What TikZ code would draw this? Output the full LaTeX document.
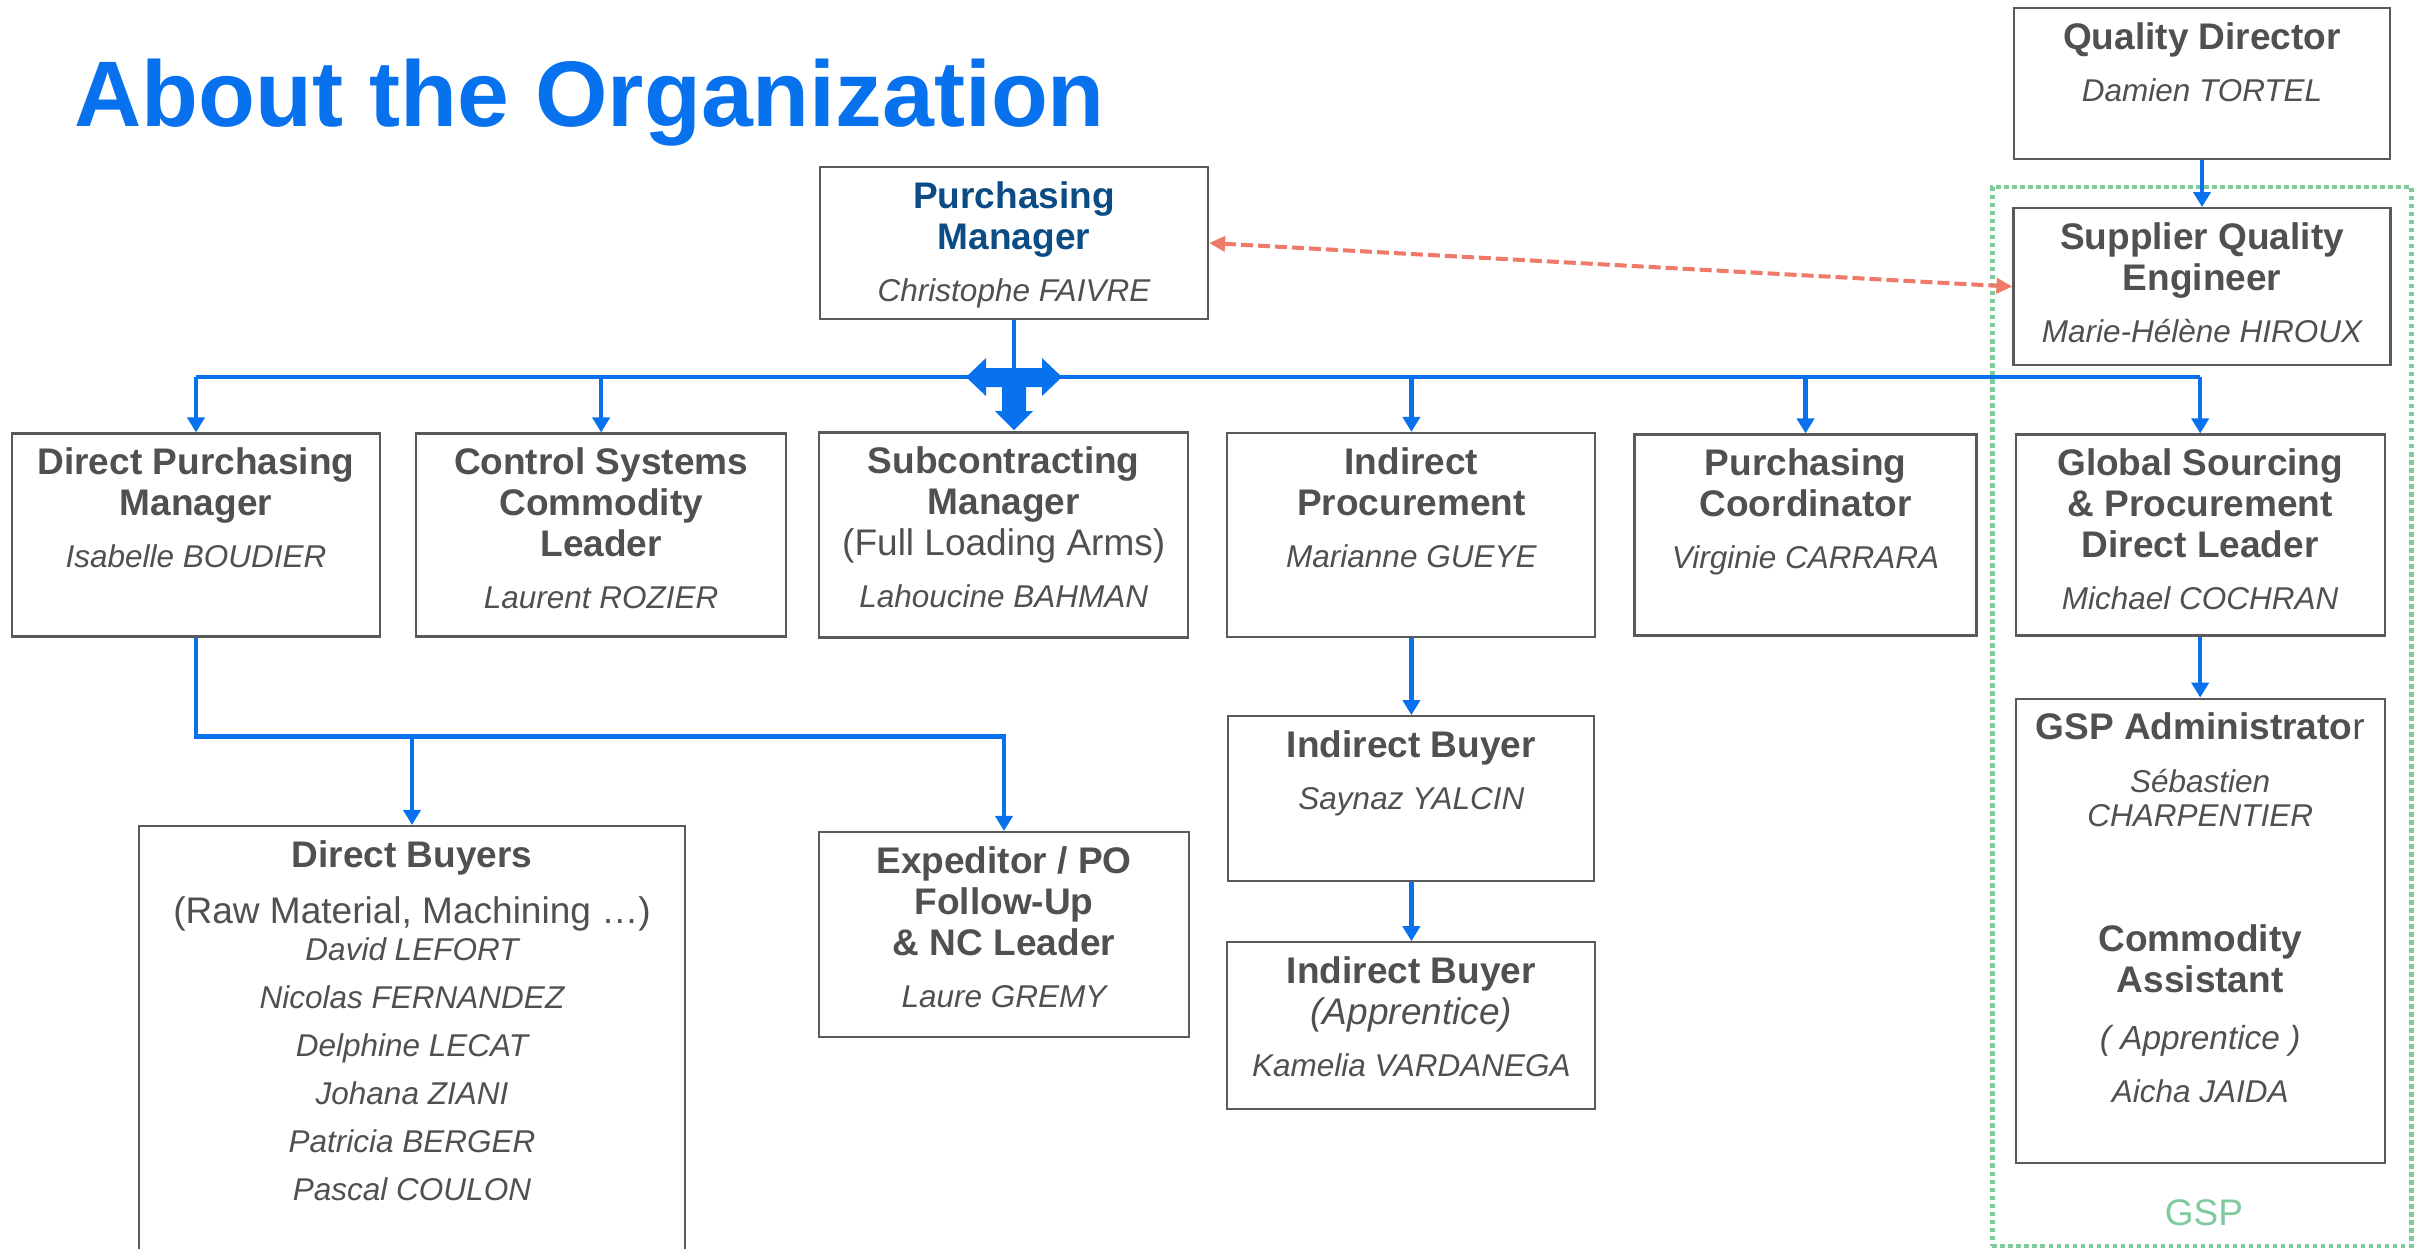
\documentclass[tikz,border=0pt]{standalone}
\usepackage{fontspec}
\setmainfont{Liberation Sans}
\usepackage{xcolor}
\definecolor{orgblue}{HTML}{0872EE}
\definecolor{headblue}{HTML}{0B4C84}
\definecolor{boxgray}{HTML}{5A5A5A}
\definecolor{txtgray}{HTML}{505050}
\definecolor{linkred}{HTML}{EF7A68}
\definecolor{gspgreen}{HTML}{7FCB9E}
\usepackage{tikz}
\usetikzlibrary{arrows.meta,positioning,fit}

% one unit = one pixel of the slide
\newlength{\pxu}\setlength{\pxu}{0.01cm}
% box body: width, height, text hung from the top edge
\newcommand{\orgcell}[4][11.7pt]{\parbox[c][#3\pxu][t]{#2\pxu}{\centering\rule{0pt}{#1}#4}}
\newcommand{\who}[1]{{\fontsize{8.96pt}{11.67pt}\selectfont\mdseries\itshape\color{txtgray}#1}}

\begin{document}
\begin{tikzpicture}[
  x=0.01cm, y=-0.01cm,
  role/.style={draw=boxgray,line width=0.6pt,fill=white,inner sep=0pt,text=txtgray,
    font=\fontsize{10.53pt}{11.67pt}\selectfont\bfseries},
  bus/.style={orgblue,line width=1.3pt},
  feed/.style={bus,-{Triangle[width=0.17cm,length=0.15cm]}},
  peer/.style={linkred,line width=1.15pt,dash pattern=on 0.12cm off 0.05cm,
    {Triangle[width=0.15cm,length=0.16cm]}-{Triangle[width=0.15cm,length=0.16cm]}},
  gspframe/.style={draw=gspgreen,line width=0.045cm,dash pattern=on 0.045cm off 0.035cm,inner sep=0.2cm},
]
\path[use as bounding box,fill=white] (0,0) rectangle (2425,1249);

\node[anchor=base west,inner sep=0pt,text=orgblue,font=\fontsize{26.5pt}{30pt}\selectfont\bfseries]
  (title) at (74,127) {About the Organization};

% top of the chart
\node[role] (pm) at (1014,243) {\orgcell{388}{152}{\color{headblue}Purchasing\\Manager\\[3.1pt]\who{Christophe FAIVRE}}};
\node[role] (qd) at (2202,83.5) {\orgcell{376}{151}{Quality Director\\[3.1pt]\who{Damien TORTEL}}};
\node[role,below=0.47cm of qd] (sqe) {\orgcell{377}{157}{Supplier Quality\\Engineer\\[3.1pt]\who{Marie-Hélène HIROUX}}};

% second row
\node[role] (dpm) at (196,535) {\orgcell{368}{203}{Direct Purchasing\\Manager\\[3.1pt]\who{Isabelle BOUDIER}}};
\node[role,right=0.34cm of dpm] (csl) {\orgcell{370}{203}{Control Systems\\Commodity\\Leader\\[3.1pt]\who{Laurent ROZIER}}};
\node[role,right=0.31cm of csl] (scm) {\orgcell{369}{205}{Subcontracting\\Manager\\{\mdseries(Full Loading Arms)}\\[3.1pt]\who{Lahoucine BAHMAN}}};
\node[role,right=0.37cm of scm] (ip) {\orgcell{368}{204}{Indirect\\Procurement\\[3.1pt]\who{Marianne GUEYE}}};
\node[role,right=0.37cm of ip] (pc) {\orgcell{342}{201}{Purchasing\\Coordinator\\[3.1pt]\who{Virginie CARRARA}}};
\node[role,right=0.37cm of pc] (gs) {\orgcell{369}{201}{Global Sourcing\\\& Procurement\\Direct Leader\\[3.1pt]\who{Michael COCHRAN}}};

% lower boxes
\node[role] (db) at (412,1039) {\orgcell{546}{426}{Direct Buyers\\[4.3pt]{\mdseries(Raw Material, Machining …)}\\[-1.1pt]%
  \who{David LEFORT}\\[2pt]\who{Nicolas FERNANDEZ}\\[2pt]\who{Delphine LECAT}\\[2pt]%
  \who{Johana ZIANI}\\[2pt]\who{Patricia BERGER}\\[2pt]\who{Pascal COULON}}};
\node[role] (exp) at (1004,934.5) {\orgcell{370}{205}{Expeditor / PO\\Follow-Up\\\& NC Leader\\[3.1pt]\who{Laure GREMY}}};
\node[role,below=0.77cm of ip] (ib1) {\orgcell{366}{165}{Indirect Buyer\\[3.1pt]\who{Saynaz YALCIN}}};
\node[role,below=0.59cm of ib1] (ib2) {\orgcell{368}{167}{Indirect Buyer\\{\mdseries\itshape(Apprentice)}\\[3.1pt]\who{Kamelia VARDANEGA}}};
\node[role,below=0.61cm of gs] (gspa) {\orgcell{369}{464}{GSP Administrato{\mdseries r}\\[3.4pt]%
  \who{Sébastien}\\[-2pt]\who{CHARPENTIER}\\[23.9pt]Commodity\\Assistant\\[4.3pt]%
  {\fontsize{9.5pt}{11.67pt}\selectfont\mdseries\itshape ( Apprentice )}\\[3.4pt]\who{Aicha JAIDA}}};

% GSP group
\node[anchor=base,inner sep=0pt,text=gspgreen,font=\fontsize{10.53pt}{12pt}\selectfont] (gsplbl) at (2204,1225) {GSP};
\node[gspframe,fit=(sqe)(gspa)(gsplbl)] (gsp) {};

% reporting lines
\path (pm.south) ++(0,57) coordinate (hub);
\draw[bus] (pm.south) -- (hub);
\draw[bus] (dpm.north |- hub) -- (gs.north |- hub);
\foreach \n in {dpm,csl,ip,pc,gs}
  \draw[feed] (\n.north |- hub) -- (\n.north);
\fill[orgblue,shift={(hub)}] (-48,0) -- (-28,-19) -- (-28,-9) -- (28,-9) -- (28,-19) -- (48,0)
  -- (28,19) -- (28,10) -- (12,10) -- (12,34) -- (19,34) -- (0,53) -- (-19,34) -- (-12,34)
  -- (-12,10) -- (-28,10) -- (-28,19) -- cycle;

\draw[feed] (dpm.south) -- ++(0,99) coordinate (split) -| (exp.north);
\draw[feed] (split -| db.north) -- (db.north);
\draw[feed] (ip) -- (ib1);
\draw[feed] (ib1) -- (ib2);
\draw[feed] (qd) -- (sqe);
\draw[feed] (gs) -- (gspa);

\draw[peer] (pm.east) -- (sqe.west);
\end{tikzpicture}
\end{document}
